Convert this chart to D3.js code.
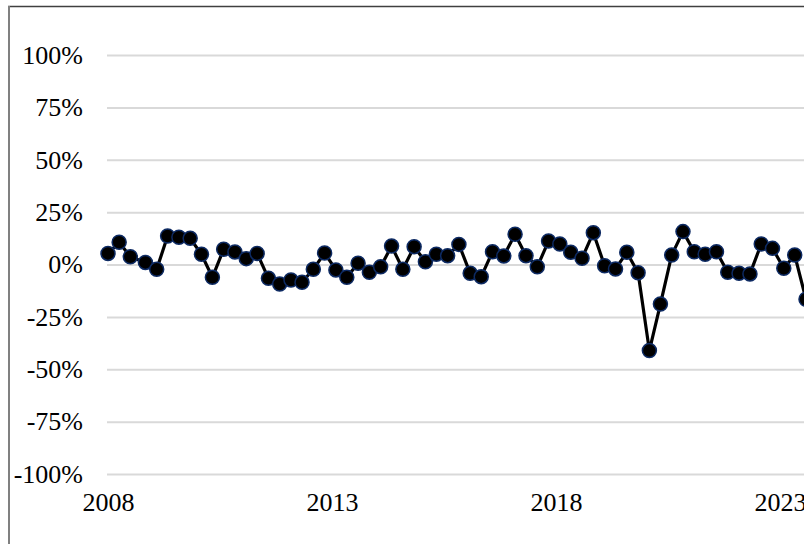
<!DOCTYPE html>
<html>
<head>
<meta charset="utf-8">
<script src="https://cdn.jsdelivr.net/npm/d3@7/dist/d3.min.js"></script>
<style>
  html, body { margin: 0; padding: 0; background: #ffffff; overflow: hidden; }
  svg { display: block; }
  text { font-family: "Liberation Serif", "Times New Roman", serif; fill: #000; }
</style>
</head>
<body>
<svg id="chart" width="804" height="544"></svg>
<script>
// ---- data ----
const dates = [
  "2008-01","2008-04","2008-07","2008-11",
  "2009-02","2009-05","2009-08","2009-11",
  "2010-02","2010-05","2010-08","2010-11",
  "2011-02","2011-05","2011-08","2011-11",
  "2012-02","2012-05","2012-08","2012-11",
  "2013-02","2013-05","2013-08","2013-11",
  "2014-02","2014-05","2014-08","2014-11",
  "2015-02","2015-05","2015-08","2015-11",
  "2016-02","2016-05","2016-08","2016-11",
  "2017-02","2017-05","2017-08","2017-11",
  "2018-02","2018-05","2018-08","2018-11",
  "2019-02","2019-05","2019-08","2019-11",
  "2020-02","2020-05","2020-08","2020-11",
  "2021-02","2021-05","2021-08","2021-11",
  "2022-02","2022-05","2022-08","2022-11",
  "2023-02","2023-05","2023-08"
];
const values = [
  5.3, 10.6, 3.7, 1.0,
  -2.3, 13.6, 13.0, 12.5,
  4.9, -6.1, 7.3, 6.0,
  2.8, 5.3, -6.6, -9.3,
  -7.4, -8.5, -2.3, 5.5,
  -2.6, -6.1, 0.6, -3.7,
  -1.1, 8.8, -2.3, 8.5,
  1.3, 4.9, 4.2, 9.6,
  -4.2, -5.8, 6.1, 4.1,
  14.4, 4.2, -1.1, 11.2,
  9.8, 5.8, 3.0, 15.2,
  -0.6, -2.1, 5.8, -3.9,
  -41.1, -18.9, 4.5, 15.7,
  6.1, 4.9, 6.1, -3.7,
  -4.2, -4.5, 9.8, 7.7,
  -1.8, 4.5, -16.6
];
const yTicks = [-100, -75, -50, -25, 0, 25, 50, 75, 100];
const yTickLabels = ["-100%", "-75%", "-50%", "-25%", "0%", "25%", "50%", "75%", "100%"];
const xTickYears = ["2008", "2013", "2018", "2023"];

// ---- layout ----
const svg = d3.select("#chart");
const W = 804, H = 544;
const plotLeft = 107, plotRight = 1000, plotTop = 55, plotBottom = 474;
const parseMonth = d3.timeParse("%Y-%m");
const data = dates.map((d, i) => ({ date: parseMonth(d), value: values[i] }));

const x = d3.scaleTime()
  .domain([parseMonth("2008-01"), parseMonth("2023-01")])
  .range([108, 780]);
const y = d3.scaleLinear().domain([-100, 100]).range([plotBottom, plotTop]);

const FONT = "Liberation Serif, Times New Roman, serif";

// chart frame (partially visible)
svg.append("line").attr("x1", 8).attr("x2", W + 10).attr("y1", 6.5).attr("y2", 6.5)
  .attr("stroke", "#404040").attr("stroke-width", 1.5);
svg.append("line").attr("x1", 9).attr("x2", 9).attr("y1", 6).attr("y2", H + 10)
  .attr("stroke", "#808080").attr("stroke-width", 2);

// y axis with gridlines
const yAxis = d3.axisLeft(y)
  .tickValues(yTicks)
  .tickFormat((d, i) => yTickLabels[i])
  .tickSizeInner(-(plotRight - plotLeft))
  .tickSizeOuter(0)
  .tickPadding(24);
const gy = svg.append("g").attr("transform", `translate(${plotLeft},0)`).call(yAxis);
gy.select(".domain").remove();
gy.selectAll(".tick line").attr("stroke", "#d9d9d9").attr("stroke-width", 2);
gy.selectAll(".tick text").attr("font-size", 26).attr("font-family", FONT).attr("fill", "#000");

// x axis labels
const xAxis = d3.axisBottom(x)
  .tickValues(xTickYears.map(s => d3.timeParse("%Y")(s)))
  .tickFormat(d3.timeFormat("%Y"))
  .tickSize(0)
  .tickPadding(19);
const gx = svg.append("g").attr("transform", `translate(0,${plotBottom})`).call(xAxis);
gx.select(".domain").remove();
gx.selectAll(".tick text").attr("font-size", 26).attr("font-family", FONT).attr("fill", "#000");

// line
const line = d3.line().x(d => x(d.date)).y(d => y(d.value));
svg.append("path").datum(data)
  .attr("fill", "none").attr("stroke", "#000").attr("stroke-width", 3.2)
  .attr("stroke-linejoin", "round")
  .attr("d", line);

// markers
svg.append("g").selectAll("circle").data(data).join("circle")
  .attr("cx", d => x(d.date)).attr("cy", d => y(d.value))
  .attr("r", 7)
  .attr("fill", "#000")
  .attr("stroke", "#0d2a63").attr("stroke-width", 1.5);
</script>
</body>
</html>
